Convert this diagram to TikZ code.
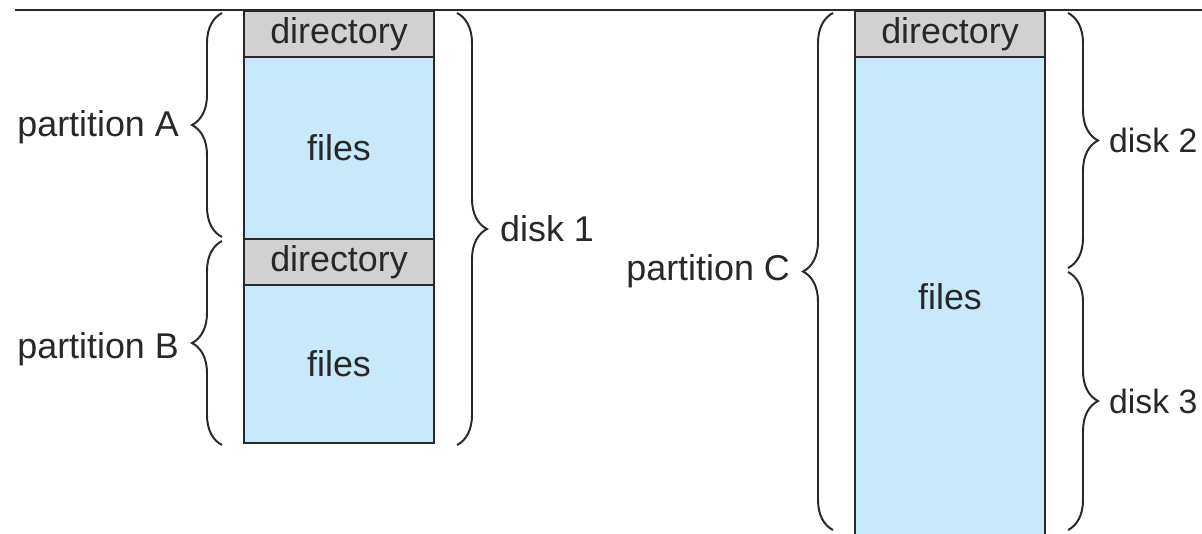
\documentclass[tikz,border=0pt]{standalone}
\usepackage{fontspec}
\setmainfont{Liberation Sans}
\usepackage{tikz}
\usetikzlibrary{positioning, calc, decorations.pathreplacing}
\definecolor{dirgray}{RGB}{209,209,209}
\definecolor{fileblue}{RGB}{200,233,249}
\definecolor{ink}{RGB}{40,40,40}
\tikzset{every node/.append style={align=center, inner sep=3pt}}

\begin{document}
\begin{tikzpicture}[font=\fontsize{25.5}{30}\selectfont, node distance=0cm,
    d/.style={rectangle, draw=ink, line width=1.4pt, fill=dirgray, text=ink, minimum width=4.75cm, minimum height=1.15cm, outer sep=0pt},
    f/.style={rectangle, draw=ink, line width=1.4pt, fill=fileblue, text=ink, minimum width=4.75cm, outer sep=0pt},
    br/.style={decorate, decoration={brace, amplitude=0.75cm}, line width=1.4pt, draw=ink},
    lbl/.style={text=ink}]
\useasboundingbox (0,0) rectangle (30.05,-13.325);
\draw[line width=1.4pt, ink] (0.375,-0.24) -- (30.05,-0.24);
% disk 1: partitions A and B
\node[d] (dirA) at (8.475,-0.85) {directory};
\node[f, minimum height=4.55cm, below=of dirA] (filesA) {files};
\node[d, below=of filesA] (dirB) {directory};
\node[f, minimum height=3.95cm, below=of dirB] (filesB) {files};
% partition C over disks 2 and 3
\node[d] (dirC) at (23.75,-0.85) {directory};
\node[f, minimum height=12cm, below=of dirC] (filesC) {files};
\coordinate (splitC) at ($(dirC.north east)+(0.575,-6.475)$);
% braces
\draw[br] ($(filesA.south west)+(-0.55,0.05)$) -- ($(dirA.north west)+(-0.55,-0.05)$)
    node[pos=0.49, left=0.95cm, lbl] (partA) {partition A};
\draw[br] ($(filesB.south west)+(-0.55,-0.05)$) -- ($(dirB.north west)+(-0.55,-0.05)$)
    node[pos=0.47, left=0.95cm, lbl] (partB) {partition B};
\draw[br] ($(dirA.north east)+(0.575,-0.05)$) -- ($(filesB.south east)+(0.575,-0.05)$)
    node[midway, right=0.95cm, lbl] (disk1) {disk 1};
\draw[br] ($(filesC.south west)+(-0.55,0.175)$) -- ($(dirC.north west)+(-0.55,-0.05)$)
    node[midway, left=0.95cm, lbl] (partC) {partition C};
\draw[br] ($(dirC.north east)+(0.575,-0.05)$) -- ($(splitC)+(0,0.05)$)
    node[midway, right=0.9cm, lbl, font=\fontsize{24}{28}\selectfont] (disk2) {disk 2};
\draw[br] ($(splitC)+(0,-0.05)$) -- ($(filesC.south east)+(0.575,0.175)$)
    node[midway, right=0.9cm, lbl, font=\fontsize{24}{28}\selectfont] (disk3) {disk 3};
\end{tikzpicture}
\end{document}
